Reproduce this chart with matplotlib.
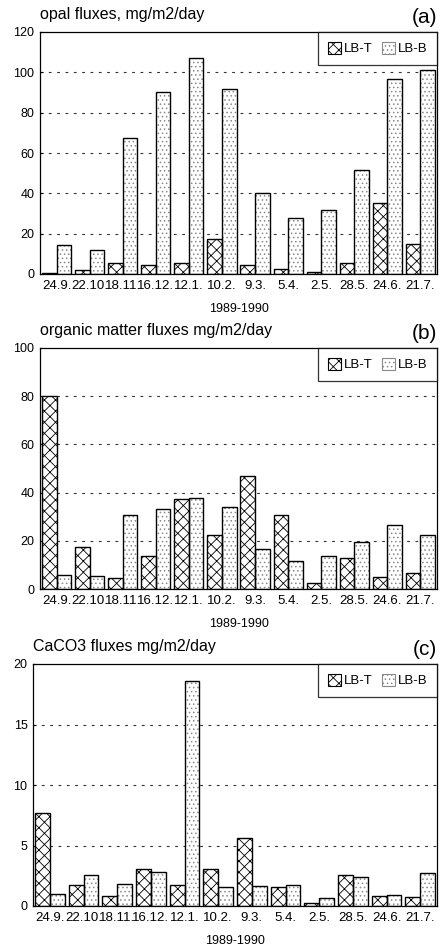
import matplotlib
matplotlib.use("Agg")
import matplotlib.pyplot as plt
import numpy as np
from matplotlib.patches import Patch

plt.rcParams['font.family'] = ['Liberation Sans', 'DejaVu Sans']
plt.rcParams['hatch.linewidth'] = 0.6

dates = ["24.9.", "22.10.", "18.11.", "16.12.", "12.1.", "10.2.", "9.3.",
         "5.4.", "2.5.", "28.5.", "24.6.", "21.7."]

opal_T = [0.6, 1.8, 5.5, 4.6, 5.5, 17.4, 4.3, 2.3, 1.2, 5.3, 35.0, 15.0]
opal_B = [14.6, 11.9, 67.5, 90.4, 107.3, 91.7, 40.4, 28.0, 31.6, 51.5, 96.5, 101.0]

org_T = [80.2, 17.3, 4.4, 13.9, 37.4, 22.2, 46.8, 30.5, 2.4, 13.0, 5.1, 6.6]
org_B = [5.8, 5.5, 30.5, 33.0, 37.7, 34.1, 16.5, 11.5, 13.9, 19.4, 26.6, 22.6]

caco3_T = [7.72, 1.77, 0.83, 3.03, 1.71, 3.03, 5.63, 1.6, 0.22, 2.54, 0.86, 0.72]
caco3_B = [0.97, 2.57, 1.8, 2.79, 18.62, 1.6, 1.63, 1.77, 0.63, 2.43, 0.94, 2.7]

panels = [
    ("opal fluxes, mg/m2/day", "(a)", opal_T, opal_B, 120, 20,
     [40/440, 1-274/952, (437-40)/440, (274-32)/952]),
    ("organic matter fluxes mg/m2/day", "(b)", org_T, org_B, 100, 20,
     [40/440, 1-589/952, (437-40)/440, (589-348)/952]),
    ("CaCO3 fluxes mg/m2/day", "(c)", caco3_T, caco3_B, 20, 5,
     [33/440, 1-906/952, (437-33)/440, (906-664)/952]),
]

fig = plt.figure(figsize=(4.4, 9.52), dpi=100)
w = 0.44
x = np.arange(len(dates))
DOT = '#8a8a8a'

for title, tag, vT, vB, ymax, step, pos in panels:
    ax = fig.add_axes(pos)
    ax.bar(x - w/2, vT, width=w, color='white', edgecolor='black',
           hatch='xxx', linewidth=0, zorder=2)
    ax.bar(x + w/2, vB, width=w, color='white', edgecolor=DOT,
           hatch='....', linewidth=0, zorder=2)
    ax.bar(x - w/2, vT, width=w, fill=False, edgecolor='black', linewidth=1.0, zorder=3)
    ax.bar(x + w/2, vB, width=w, fill=False, edgecolor='black', linewidth=1.0, zorder=3)

    ax.set_xlim(-0.5, 11.5)
    ax.set_ylim(0, ymax)
    yt = np.arange(0, ymax + 0.001, step)
    ax.set_yticks(yt)
    ax.set_yticklabels([f"{int(v)}" for v in yt], fontsize=9)
    ax.set_xticks(x)
    ax.set_xticklabels(dates, fontsize=9.5)
    ax.tick_params(axis='x', length=0, pad=4)
    ax.tick_params(axis='y', length=2, direction='in', pad=4)
    for g in yt[1:-1]:
        ax.axhline(g, color='#333333', linestyle=(0, (2.5, 5)), linewidth=0.8, zorder=1)
    for s in ax.spines.values():
        s.set_linewidth(0.9)
    ax.set_xlabel("1989-1990", fontsize=9, labelpad=8)
    ax.set_title(title, loc='left', fontsize=11.5, pad=9)
    ax.text(1.0, 1.02, tag, transform=ax.transAxes, ha='right', va='bottom', fontsize=15)

    handles = [Patch(facecolor='white', edgecolor='black', hatch='xxx', linewidth=0.8),
               Patch(facecolor='white', edgecolor=DOT, hatch='....', linewidth=0.8)]
    leg = ax.legend(handles, ["LB-T", "LB-B"], loc='upper right', ncol=2,
                    fontsize=9.5, frameon=True, fancybox=False, borderaxespad=0,
                    handlelength=1.0, handleheight=1.0, handletextpad=0.2,
                    columnspacing=0.7, borderpad=0.75)
    leg.get_frame().set_edgecolor('black')
    leg.get_frame().set_linewidth(0.9)
    leg.set_zorder(5)

fig.savefig("out.png", dpi=100)
